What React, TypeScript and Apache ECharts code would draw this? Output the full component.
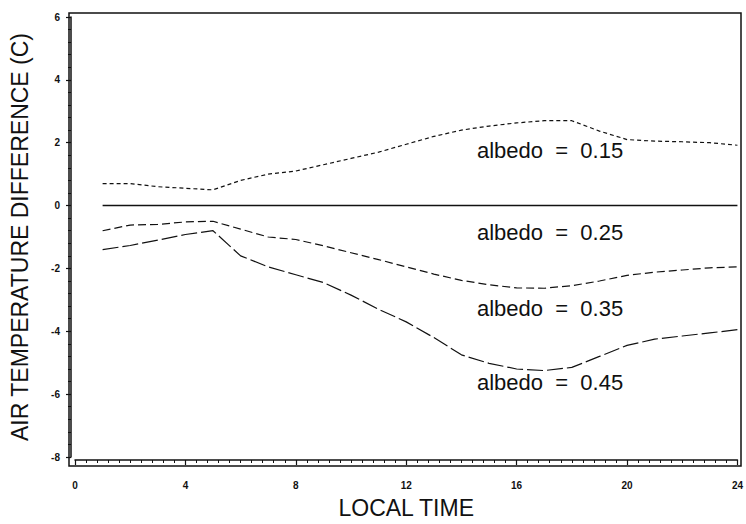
import React, { useEffect, useRef } from "react";
import * as echarts from "echarts";

const hours = [1, 2, 3, 4, 5, 6, 7, 8, 9, 10, 11, 12, 13, 14, 15, 16, 17, 18, 19, 20, 21, 22, 23, 24];
const albedo015 = [0.7, 0.7, 0.6, 0.55, 0.5, 0.8, 1.0, 1.1, 1.3, 1.5, 1.7, 1.95, 2.2, 2.4, 2.53, 2.63, 2.7, 2.7, 2.37, 2.1, 2.05, 2.03, 2.0, 1.92];
const albedo025 = [0, 0, 0, 0, 0, 0, 0, 0, 0, 0, 0, 0, 0, 0, 0, 0, 0, 0, 0, 0, 0, 0, 0, 0];
const albedo035 = [-0.8, -0.62, -0.6, -0.52, -0.5, -0.75, -1.0, -1.08, -1.28, -1.5, -1.72, -1.95, -2.18, -2.38, -2.52, -2.62, -2.63, -2.55, -2.4, -2.22, -2.12, -2.05, -1.98, -1.95];
const albedo045 = [-1.4, -1.27, -1.1, -0.92, -0.8, -1.6, -1.95, -2.2, -2.45, -2.85, -3.3, -3.7, -4.2, -4.75, -5.02, -5.2, -5.25, -5.15, -4.8, -4.45, -4.25, -4.15, -4.05, -3.95];
const curveLabels = ["albedo  =  0.15", "albedo  =  0.25", "albedo  =  0.35", "albedo  =  0.45"];

const FONT = '"Liberation Sans", Arial, Helvetica, sans-serif';
const INK = "#111";

export default function App() {
  const ref = useRef<HTMLDivElement>(null);
  useEffect(() => {
    if (!ref.current) return;
    const chart = echarts.init(ref.current, undefined, { renderer: "svg" });
    const pairs = (vals: number[]) => hours.map((h, i) => [h, vals[i]]);
    const labelY = [150, 232, 308, 382];
    chart.setOption({
      animation: false,
      backgroundColor: "#fff",
      grid: { left: 73, right: 5, top: 17, bottom: 61, containLabel: false },
      xAxis: {
        type: "value",
        min: 0,
        max: 24,
        interval: 4,
        offset: 3,
        name: "LOCAL TIME",
        nameLocation: "middle",
        nameGap: 36,
        nameTextStyle: { fontFamily: FONT, fontSize: 23, color: INK },
        axisLine: { show: true, onZero: false, lineStyle: { color: INK, width: 1.5 } },
        axisTick: { show: true, length: 5, lineStyle: { color: INK, width: 1.2 } },
        minorTick: { show: true, splitNumber: 10, length: 3, lineStyle: { color: INK, width: 1 } },
        splitLine: { show: false },
        axisLabel: { fontFamily: FONT, fontSize: 10, fontWeight: "bold", color: INK, margin: 20 },
      },
      yAxis: {
        type: "value",
        min: -8,
        max: 6,
        interval: 2,
        offset: 4,
        name: "AIR TEMPERATURE DIFFERENCE (C)",
        nameLocation: "middle",
        nameGap: 40,
        nameTextStyle: { fontFamily: FONT, fontSize: 23, color: INK },
        axisLine: { show: true, onZero: false, lineStyle: { color: INK, width: 1.5 } },
        axisTick: { show: true, length: 5, lineStyle: { color: INK, width: 1.2 } },
        minorTick: { show: true, splitNumber: 5, length: 3, lineStyle: { color: INK, width: 1 } },
        splitLine: { show: false },
        axisLabel: { fontFamily: FONT, fontSize: 10, fontWeight: "bold", color: INK, margin: 11 },
      },
      series: [
        { type: "line", data: pairs(albedo015), symbol: "none", lineStyle: { color: INK, width: 1.2, type: [4, 3] } },
        { type: "line", data: pairs(albedo025), symbol: "none", lineStyle: { color: INK, width: 1.4, type: "solid" } },
        { type: "line", data: pairs(albedo035), symbol: "none", lineStyle: { color: INK, width: 1.2, type: [8, 4] } },
        { type: "line", data: pairs(albedo045), symbol: "none", lineStyle: { color: INK, width: 1.2, type: [16, 4] } },
      ],
      graphic: [
        {
          type: "rect",
          silent: true,
          shape: { x: 69, y: 13, width: 672, height: 453 },
          style: { fill: "none", stroke: INK, lineWidth: 1.5 },
        },
        ...curveLabels.map((t, i) => ({
          type: "text",
          x: 477,
          y: labelY[i],
          style: { text: t, fontFamily: FONT, fontSize: 22, fill: INK, verticalAlign: "middle", align: "left" },
        })),
      ],
    });
    return () => chart.dispose();
  }, []);
  return <div ref={ref} style={{ position: "fixed", left: 0, top: 0, width: 746, height: 524, background: "#fff" }} />;
}
